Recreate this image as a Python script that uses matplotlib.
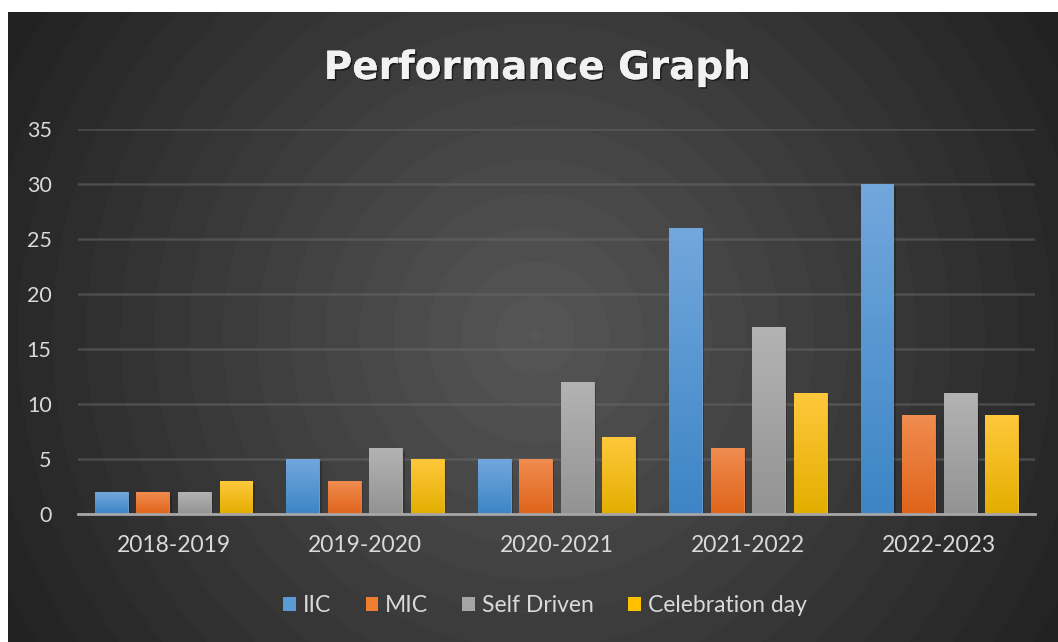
import numpy as np
import matplotlib
matplotlib.use("Agg")
import matplotlib.pyplot as plt
import matplotlib.patheffects as pe
from matplotlib.colors import LinearSegmentedColormap
from matplotlib.patches import Patch

categories = ["2018-2019", "2019-2020", "2020-2021", "2021-2022", "2022-2023"]
series_names = ["IIC", "MIC", "Self Driven", "Celebration day"]
iic = [2, 5, 5, 26, 30]
mic = [2, 3, 5, 6, 9]
self_driven = [2, 6, 12, 17, 11]
celebration = [3, 5, 7, 11, 9]
yticks = [0, 5, 10, 15, 20, 25, 30, 35]
title = "Performance Graph"

series = [iic, mic, self_driven, celebration]
top_colors = ["#72a7dc", "#f08c50", "#b3b3b3", "#ffc83c"]
bot_colors = ["#3d85c6", "#e0641a", "#939393", "#e3ae00"]
legend_colors = ["#5b9bd5", "#ed7d31", "#a5a5a5", "#ffc000"]

W, H = 1058, 642
fig = plt.figure(figsize=(W / 100, H / 100), dpi=100)
fig.patch.set_facecolor("white")

# background with stepped radial gradient
bg = fig.add_axes([8 / W, 0, 1 - 8 / W, 1 - 12 / H])
bg.set_axis_off()
bw, bh = W - 8, H - 12
yy, xx = np.mgrid[0:bh, 0:bw]
cx, cy = 535 - 8, 335 - 12
r = np.sqrt((xx - cx) ** 2 + (yy - cy) ** 2) / 614.0
v = 86 - (86 - 32) * np.clip(r, 0, 1)
v = np.round(v / 3.0) * 3.0
img = np.dstack([v, v, v]) / 255.0
bg.imshow(img, aspect="auto", extent=[0, bw, 0, bh], origin="upper", interpolation="nearest")
bg.set_xlim(0, bw)
bg.set_ylim(0, bh)

ax = fig.add_axes([78 / W, 128 / H, (1035 - 78) / W, (514 - 129) / H])
ax.set_facecolor("none")

x = np.arange(len(categories))
width = 0.172
pitch = 0.217
for i, vals in enumerate(series):
    offs = x + (i - 1.5) * pitch
    cmap = LinearSegmentedColormap.from_list("g%d" % i, [bot_colors[i], top_colors[i]])
    ax.bar(offs + 0.012, vals, width, bottom=-0.25, color="black", alpha=0.22, zorder=2, linewidth=0)
    bars = ax.bar(offs, vals, width, color=legend_colors[i], zorder=3, linewidth=0.6,
                  edgecolor=top_colors[i], label=series_names[i])
    for b in bars:
        x0, y0 = b.get_x(), b.get_y()
        grad = np.linspace(0, 1, 100).reshape(-1, 1)
        im = ax.imshow(grad, cmap=cmap, aspect="auto", origin="lower",
                       extent=[x0, x0 + b.get_width(), y0, y0 + b.get_height()], zorder=3.5)
        im.set_clip_path(b)
ax.set_xlim(-0.5, len(categories) - 0.5)
ax.set_ylim(0, 35)

ax.set_yticks(yticks)
ax.set_yticklabels([str(t) for t in yticks])
ax.set_xticks(x)
ax.set_xticklabels(categories)
ax.grid(axis="y", color="#6a6a6a", linewidth=1.8, alpha=0.5, zorder=0)
ax.set_axisbelow(True)
for s in ["top", "right", "left"]:
    ax.spines[s].set_visible(False)
ax.spines["bottom"].set_color("#a6a6a6")
ax.spines["bottom"].set_linewidth(2)
ax.spines["bottom"].set_zorder(5)
ax.tick_params(axis="both", length=0, colors="#d9d9d9")
ax.tick_params(axis="y", pad=19, labelsize=15.5)
ax.tick_params(axis="x", pad=15, labelsize=16.5)
for lab in ax.get_xticklabels() + ax.get_yticklabels():
    lab.set_fontfamily("Lato")

fig.text(537 / W, 1 - 68 / H, title, ha="center", va="center", color="#f2f2f2",
         fontsize=28, fontweight="bold", family="DejaVu Sans",
         path_effects=[pe.withSimplePatchShadow(offset=(1.2, -1.2), alpha=0.5, shadow_rgbFace="black"),
                       pe.Normal()])

handles = [Patch(facecolor=c, edgecolor="none") for c in legend_colors]
leg = fig.legend(handles, series_names, loc="center", bbox_to_anchor=(545 / W, 1 - 606 / H),
                 ncol=4, frameon=False, prop={"family": "Lato", "size": 16.5},
                 handlelength=0.55, handleheight=0.55, handletextpad=0.3, columnspacing=1.5,
                 labelcolor="#d9d9d9")

fig.savefig("out.png", dpi=100, facecolor=fig.get_facecolor())
